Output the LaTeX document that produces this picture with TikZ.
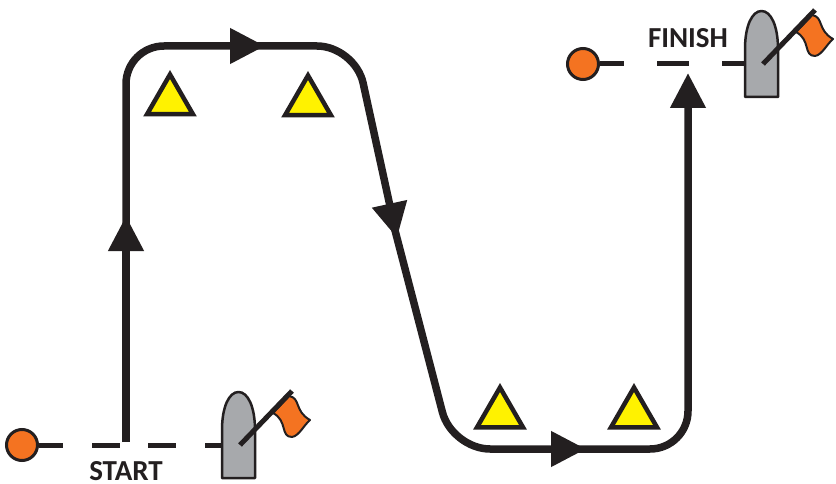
\documentclass[tikz,border=0pt]{standalone}
\usepackage{fontspec}
\setmainfont{Carlito}
\usetikzlibrary{arrows.meta, shapes.geometric}
\definecolor{inkblack}{HTML}{231F20}
\definecolor{flagorange}{HTML}{F47321}
\definecolor{boatgray}{HTML}{A7A9AC}
\definecolor{markyellow}{HTML}{FFF200}
\tikzset{
  boat/.pic={
    \coordinate (-port) at (0,0);
    \draw[draw=inkblack, fill=boatgray, line width=2.5pt, line join=round] (0,33) -- (0,-15)
      .. controls (0,-38) and (7,-53) .. (16.5,-53)
      .. controls (26,-53) and (33,-38) .. (33,-15) -- (33,33) -- cycle;
    \draw[draw=inkblack, fill=flagorange, line width=2pt, line join=round] (51,-32) -- (67,-49)
      .. controls (79,-47) and (72,-34) .. (88,-25)
      .. controls (82,-20) and (77,-9) .. (70,-8)
      .. controls (58,-8) and (66,-24) .. (51,-32) -- cycle;
    \draw[draw=inkblack, line width=5pt] (18,0) -- (70,-54);
  }
}
\begin{document}
\begin{tikzpicture}[x=1pt, y=-1pt]
\tikzstyle{gatepin}=[circle, minimum size=31pt, inner sep=0pt, line width=3pt, draw=inkblack, fill=flagorange]
\tikzstyle{buoy}=[regular polygon, regular polygon sides=3, minimum size=53pt, inner sep=0pt, line width=4.5pt, draw=inkblack, fill=markyellow]
\tikzstyle{course}=[draw=inkblack, line width=7.5pt, rounded corners=38pt, shorten <=-14pt, -{Triangle[length=35pt, width=34pt]}]
\tikzstyle{gate}=[draw=inkblack, line width=5pt]
\tikzstyle{caption}=[font=\bfseries\fontsize{29}{29}\selectfont, text=inkblack, inner sep=0pt]
    \useasboundingbox (0,0) rectangle (836,484);
    % gates
    \node[gatepin] (startpin) at (22,445) { };
    \node[gatepin] (finishpin) at (583,64) { };
    \draw[gate, dash pattern=on 24pt off 29pt on 28pt off 28pt on 28pt off 29pt on 30pt off 0pt] (startpin.east) -- (222,445) coordinate (startport);
    \draw[gate, dash pattern=on 24pt off 33pt on 32pt off 33pt on 30pt off 0pt] (finishpin.east) -- (745,64) coordinate (finishport);
    \path (startport) pic (startboat) {boat};
    \path (finishport) pic (finishboat) {boat};
    % course
    \coordinate (startgate) at (126,442);
    \coordinate (leg1) at (126,216);
    \coordinate (leg2) at (265,46);
    \coordinate (leg3) at (397,238);
    \coordinate (leg4) at (586,449);
    \coordinate (leg5) at (688,73);
    \draw[course, shorten <=0pt] (startgate) -- (leg1);
    \draw[course] (leg1) -- (126,46) -- (leg2);
    \draw[course] (leg2) -- (355,46) -- (leg3);
    \draw[course] (leg3) -- (452,449) -- (leg4);
    \draw[course] (leg4) -- (688,449) -- (leg5);
    % marks
    \node[buoy] (mark1) at (170,101) { };
    \node[buoy] (mark2) at (308,102) { };
    \node[buoy] (mark3) at (500,414) { };
    \node[buoy] (mark4) at (634,414) { };
    % labels
    \node[caption] (startlabel) at (126,471) {START};
    \node[caption] (finishlabel) at (688,38) {FINISH};
\end{tikzpicture}
\end{document}
